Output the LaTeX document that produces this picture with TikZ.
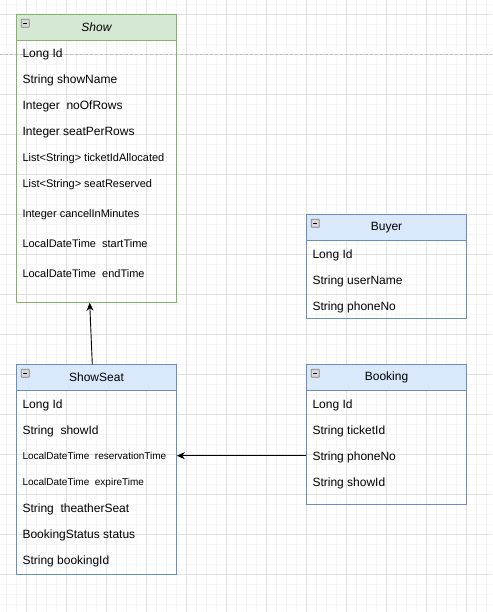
\documentclass[tikz,border=0pt]{standalone}
\usepackage{fontspec}
\setmainfont{Liberation Sans}
\usetikzlibrary{arrows.meta}
\definecolor{gMinor}{HTML}{F5F5F5}
\definecolor{gMajor}{HTML}{E2E2E2}
\definecolor{pageLine}{HTML}{BDBDBD}
\definecolor{greenFill}{HTML}{D5E8D4}
\definecolor{greenLine}{HTML}{82B366}
\definecolor{blueFill}{HTML}{DAE8FC}
\definecolor{blueLine}{HTML}{6C8EBF}
\definecolor{iconFill}{HTML}{D8D8D8}
\definecolor{iconLine}{HTML}{808080}
\tikzset{
  fA/.style={font=\fontsize{12}{14}\selectfont},
  fB/.style={font=\fontsize{11}{13}\selectfont},
  fC/.style={font=\fontsize{10}{12}\selectfont},
  field/.style={anchor=base west, inner sep=0pt, text=black},
  title/.style={inner sep=0pt, text=black, font=\fontsize{12}{14}\selectfont},
  umlbox/.style={anchor=north west, inner sep=0pt, minimum width=160pt},
  greenedge/.style={draw=greenLine, line width=0.9pt},
  blueedge/.style={draw=blueLine, line width=0.9pt},
  conn/.style={draw=black, line width=0.9pt, -{Stealth[length=8pt,width=7pt,inset=2.5pt]}},
}
\begin{document}
\begin{tikzpicture}[x=1pt,y=-1pt]
\useasboundingbox (0,0) rectangle (492,612);
% grid
\foreach \i in {0,...,48} \draw[gMinor, line width=0.8pt] (6.7+10*\i,0) -- (6.7+10*\i,612);
\foreach \i in {0,...,60} \draw[gMinor, line width=0.8pt] (0,4.3+10*\i) -- (492,4.3+10*\i);
\foreach \i in {0,...,11} \draw[gMajor, line width=0.8pt] (26.7+40*\i,0) -- (26.7+40*\i,612);
\foreach \i in {0,...,15} \draw[gMajor, line width=0.8pt] (0,14.3+40*\i) -- (492,14.3+40*\i);
% page break line
\draw[pageLine, line width=0.8pt, dash pattern=on 3pt off 2pt] (0,54) -- (492,54);

% boxes
\node[umlbox, minimum height=288pt] (show) at (16.3,14.3) {};
\node[umlbox, minimum height=210pt] (showseat) at (16.3,364.3) {};
\node[umlbox, minimum height=104pt] (buyer) at (306.3,214.3) {};
\node[umlbox, minimum height=140pt] (booking) at (306.3,364.3) {};

% headers
\fill[greenFill] (16.3,14.3) rectangle (176.3,40.7);
\fill[blueFill] (16.3,364.3) rectangle (176.3,390.7);
\fill[blueFill] (306.3,214.3) rectangle (466.3,240.7);
\fill[blueFill] (306.3,364.3) rectangle (466.3,390.7);
\draw[greenedge] (show.north west) rectangle (show.south east);
\draw[greenedge] (16.3,40.7) -- (176.3,40.7);
\draw[blueedge] (showseat.north west) rectangle (showseat.south east);
\draw[blueedge] (16.3,390.7) -- (176.3,390.7);
\draw[blueedge] (buyer.north west) rectangle (buyer.south east);
\draw[blueedge] (306.3,240.7) -- (466.3,240.7);
\draw[blueedge] (booking.north west) rectangle (booking.south east);
\draw[blueedge] (306.3,390.7) -- (466.3,390.7);

% collapse icons
\foreach \px/\py in {21.3/19.3, 21.3/369.3, 311.3/219.3, 311.3/369.3} {
  \draw[fill=iconFill, draw=iconLine, line width=0.7pt, rounded corners=0.6pt] (\px,\py) rectangle (\px+8,\py+8);
  \draw[black, line width=1pt] (\px+2,\py+4) -- (\px+6,\py+4);
}

% titles
\node[title, font=\fontsize{12}{14}\selectfont\itshape] (tShow) at (96.5,27.5) {Show};
\node[title] (tShowSeat) at (96.5,377.5) {ShowSeat};
\node[title] (tBuyer) at (386.5,227.5) {Buyer};
\node[title] (tBooking) at (386.5,377.5) {Booking};

% Show fields
\node[field, fA] (s1) at (22.3,58.0) {Long Id};
\node[field, fA] (s2) at (22.3,84.0) {String showName};
\node[field, fA] (s3) at (22.3,110.0) {Integer\ \ noOfRows};
\node[field, fA] (s4) at (22.3,136.0) {Integer seatPerRows};
\node[field, fB] (s5) at (22.3,161.7) {List<String> ticketIdAllocated};
\node[field, fB] (s6) at (22.3,187.3) {List<String> seatReserved};
\node[field, fB] (s7) at (22.3,217.3) {Integer cancelInMinutes};
\node[field, fB] (s8) at (22.3,247.0) {LocalDateTime\ \ startTime};
\node[field, fB] (s9) at (22.3,277.0) {LocalDateTime\ \ endTime};

% ShowSeat fields
\node[field, fA] (ss1) at (22.3,408.0) {Long Id};
\node[field, fA] (ss2) at (22.3,434.0) {String\ \ showId};
\node[field, fC] (ss3) at (22.3,459.3) {LocalDateTime\ \ reservationTime};
\node[field, fC] (ss4) at (22.3,485.3) {LocalDateTime\ \ expireTime};
\node[field, fA] (ss5) at (22.3,512.0) {String\ \ theatherSeat};
\node[field, fA] (ss6) at (22.3,538.0) {BookingStatus status};
\node[field, fA] (ss7) at (22.3,564.0) {String bookingId};

% Buyer fields
\node[field, fA] (b1) at (312.3,258.0) {Long Id};
\node[field, fA] (b2) at (312.3,284.0) {String userName};
\node[field, fA] (b3) at (312.3,310.0) {String phoneNo};

% Booking fields
\node[field, fA] (k1) at (312.3,408.0) {Long Id};
\node[field, fA] (k2) at (312.3,434.0) {String ticketId};
\node[field, fA] (k3) at (312.3,460.0) {String phoneNo};
\node[field, fA] (k4) at (312.3,486.0) {String showId};

% connector endpoints
\coordinate (ssTop) at (92.3,364.3);
\coordinate (showBot) at (89.7,302.8);
\coordinate (bkLeft) at (306.3,455.7);
\coordinate (ssRight) at (176.8,455.7);
\draw[conn] (ssTop) -- (showBot);
\draw[conn] (bkLeft) -- (ssRight);
\end{tikzpicture}
\end{document}
